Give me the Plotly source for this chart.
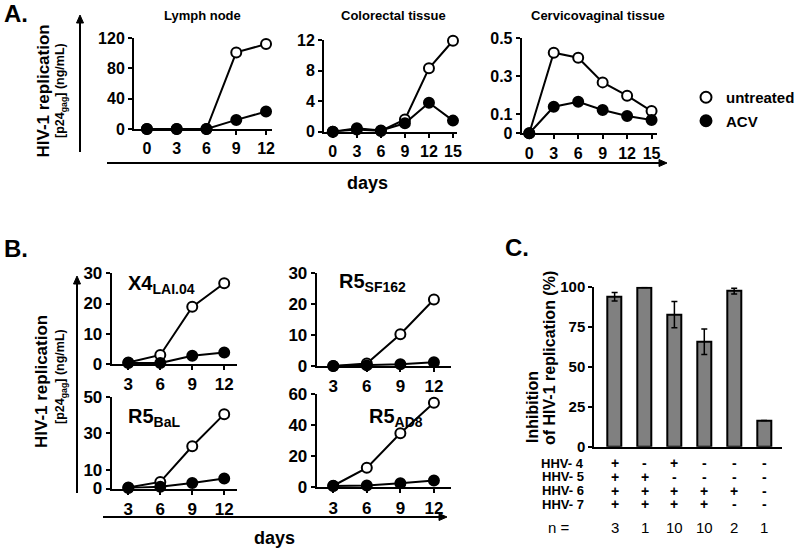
import plotly.graph_objects as go

W, H = 800, 550
FONT = "Liberation Sans, Arial, sans-serif"

# ---------------- Data ----------------
# Panel A
days_ln = [0, 3, 6, 9, 12]
ln_untreated = [0, 0, 0, 101, 112]
ln_acv = [0, 0, 0, 12, 23]

days_cr = [0, 3, 6, 9, 12, 15]
cr_untreated = [0, 0.3, 0.1, 1.6, 8.3, 11.9]
cr_acv = [0, 0.45, 0.15, 1.1, 3.8, 1.45]

days_cv = [0, 3, 6, 9, 12, 15]
cv_untreated = [0, 0.424, 0.398, 0.268, 0.198, 0.117]
cv_acv = [0, 0.14, 0.166, 0.123, 0.091, 0.07]

# Panel B
days_b = [3, 6, 9, 12]
x4_untreated = [0.5, 3.0, 18.9, 26.7]
x4_acv = [0.3, 0.3, 2.7, 3.8]
sf_untreated = [0, 0.8, 10.3, 21.5]
sf_acv = [0, 0.2, 0.6, 1.2]
bal_untreated = [0.5, 3.6, 23, 40.5]
bal_acv = [0.3, 1.0, 3.0, 5.5]
ad8_untreated = [1.0, 12.5, 34.7, 54.4]
ad8_acv = [0.8, 1.2, 2.6, 4.3]

# Panel C
group_pos = [0, 1, 2, 3, 4, 5]
inhibition = [93.7, 99.5, 82.5, 65.6, 97.3, 16.3]
inhibition_err = [2.7, None, 8.2, 8.0, 1.8, None]
hhv4 = ["+", "-", "+", "-", "-", "-"]
hhv5 = ["+", "+", "-", "-", "-", "-"]
hhv6 = ["+", "+", "+", "+", "+", "-"]
hhv7 = ["+", "+", "+", "+", "-", "-"]
n_donors = [3, 1, 10, 10, 2, 1]
hhv_rows = [("HHV- 4", hhv4), ("HHV- 5", hhv5), ("HHV- 6", hhv6), ("HHV- 7", hhv7)]

# ---------------- helpers ----------------
def dx(l, r):
    return [l / W, r / W]

def dy(b, t):
    return [1 - b / H, 1 - t / H]

def px(x):
    return x / W

def py(y):
    return 1 - y / H

def axis(domain, rng, anchor, tickvals, ticktext=None, size=16, showticks=True):
    d = dict(domain=domain, range=rng, anchor=anchor, showline=True, linecolor="black",
             linewidth=2, showgrid=False, zeroline=False, fixedrange=True, automargin=False,
             tickfont=dict(family=FONT, size=size, color="black", weight="bold"))
    if showticks:
        d.update(ticks="outside", ticklen=4, tickwidth=2, tickcolor="black",
                 tickmode="array", tickvals=tickvals)
        if ticktext is not None:
            d["ticktext"] = ticktext
    else:
        d.update(ticks="", showticklabels=False)
    return d

fig = go.Figure()

def add_pair(xs, u, a, xa, ya):
    fig.add_trace(go.Scatter(x=xs, y=u, mode="lines+markers", xaxis=xa, yaxis=ya,
                             line=dict(color="black", width=2),
                             marker=dict(size=10, color="white", line=dict(color="black", width=2)),
                             cliponaxis=False, showlegend=False))
    fig.add_trace(go.Scatter(x=xs, y=a, mode="lines+markers", xaxis=xa, yaxis=ya,
                             line=dict(color="black", width=2),
                             marker=dict(size=10, color="black", line=dict(color="black", width=2)),
                             cliponaxis=False, showlegend=False))

add_pair(days_ln, ln_untreated, ln_acv, "x", "y")
add_pair(days_cr, cr_untreated, cr_acv, "x2", "y2")
add_pair(days_cv, cv_untreated, cv_acv, "x3", "y3")
add_pair(days_b, x4_untreated, x4_acv, "x4", "y4")
add_pair(days_b, sf_untreated, sf_acv, "x5", "y5")
add_pair(days_b, bal_untreated, bal_acv, "x6", "y6")
add_pair(days_b, ad8_untreated, ad8_acv, "x7", "y7")

# legend-only entries
fig.add_trace(go.Scatter(x=[None], y=[None], mode="markers", name="untreated", legendgroup="u",
                         marker=dict(size=11, color="white", line=dict(color="black", width=2))))
fig.add_trace(go.Scatter(x=[None], y=[None], mode="markers", name="ACV", legendgroup="a",
                         marker=dict(size=11, color="black", line=dict(color="black", width=2))))

# Panel C bars
fig.add_trace(go.Bar(x=group_pos, y=inhibition, xaxis="x8", yaxis="y8", width=0.47,
                     marker=dict(color="#808080", line=dict(color="black", width=2)),
                     error_y=dict(type="data", array=inhibition_err, visible=True,
                                  color="black", thickness=1.5, width=3),
                     showlegend=False))

layout = dict(
    template="none",
    width=W, height=H, margin=dict(l=0, r=0, t=0, b=0, pad=0, autoexpand=False),
    paper_bgcolor="white", plot_bgcolor="white",
    font=dict(family=FONT, color="black"),
    showlegend=True,
    legend=dict(x=px(686), y=py(81), xanchor="left", yanchor="top",
                font=dict(family=FONT, size=15, color="black", weight="bold"),
                bgcolor="rgba(0,0,0,0)", borderwidth=0, tracegroupgap=1),
    bargap=0,
)

# Panel A axes
layout["xaxis"] = axis(dx(134, 272), [-1.3, 12.6], "y", days_ln)
layout["yaxis"] = axis(dy(129, 38), [0, 120], "x", [0, 40, 80, 120])
layout["xaxis2"] = axis(dx(324, 457), [-1.1, 15.5], "y2", days_cr)
layout["yaxis2"] = axis(dy(131.7, 40), [0, 12], "x2", [0, 4, 8, 12])
layout["xaxis3"] = axis(dx(521.7, 656.7), [-0.93, 15.63], "y3", days_cv)
layout["yaxis3"] = axis(dy(133.3, 38.3), [0, 0.5], "x3", [0, 0.1, 0.3, 0.5],
                        ["0", "0.1", "0.3", "0.5"])
# Panel B axes
layout["xaxis4"] = axis(dx(111.7, 237), [1.44, 13.2], "y4", days_b, size=17)
layout["yaxis4"] = axis(dy(364, 273.3), [0, 30], "x4", [0, 10, 20, 30], size=17)
layout["xaxis5"] = axis(dx(316.7, 450.7), [1.52, 13.5], "y5", days_b, size=17)
layout["yaxis5"] = axis(dy(366, 273.3), [0, 30], "x5", [0, 10, 20, 30], size=17)
layout["xaxis6"] = axis(dx(111.7, 237), [1.44, 13.2], "y6", days_b, size=17)
layout["yaxis6"] = axis(dy(488.5, 396.7), [0, 50], "x6", [0, 10, 30, 50], size=17)
layout["xaxis7"] = axis(dx(316.7, 450.7), [1.52, 13.5], "y7", days_b, size=17)
layout["yaxis7"] = axis(dy(487.3, 394), [0, 60], "x7", [0, 20, 40, 60], size=17)
# Panel C axes
layout["xaxis8"] = axis(dx(594.3, 781.7), [-0.68, 5.59], "y8", None, showticks=False)
layout["yaxis8"] = axis(dy(446.7, 286.7), [0, 100], "x8", [0, 25, 50, 75, 100], size=15)

fig.update_layout(**layout)

ann = []
shapes = []

def text(x, y, s, size, bold=True, angle=0, xanchor="center", yanchor="middle", xref="paper"):
    ann.append(dict(x=x, y=y, xref=xref, yref="paper", text=s, showarrow=False,
                    textangle=angle, xanchor=xanchor, yanchor=yanchor,
                    font=dict(family=FONT, size=size, color="black",
                              weight="bold" if bold else "normal")))

def arrow(x0, y0, x1, y1):
    # line from (x0,y0) to head at (x1,y1), pixel coords from top-left
    L = 8.0
    hw = 3.5
    if x0 == x1:
        sgn = 1 if y1 > y0 else -1
        by = y1 - sgn * L
        shapes.append(dict(type="line", xref="paper", yref="paper", x0=px(x0), y0=py(y0),
                           x1=px(x1), y1=py(by), line=dict(color="black", width=2)))
        path = f"M {px(x1)},{py(y1)} L {px(x1 - hw)},{py(by)} L {px(x1 + hw)},{py(by)} Z"
    else:
        sgn = 1 if x1 > x0 else -1
        bx = x1 - sgn * L
        shapes.append(dict(type="line", xref="paper", yref="paper", x0=px(x0), y0=py(y0),
                           x1=px(bx), y1=py(y1), line=dict(color="black", width=2)))
        path = f"M {px(x1)},{py(y1)} L {px(bx)},{py(y1 - hw)} L {px(bx)},{py(y1 + hw)} Z"
    shapes.append(dict(type="path", xref="paper", yref="paper", path=path,
                       fillcolor="black", line=dict(color="black", width=1)))

# Panel letters
text(px(2), py(13.5), "A.", 24, xanchor="left")
text(px(2), py(248), "B.", 24, xanchor="left")
text(px(503), py(247), "C.", 24, xanchor="left")

# Panel A texts
text(px(202), py(16), "Lymph node", 13)
text(px(393.5), py(16), "Colorectal tissue", 13)
text(px(598), py(16), "Cervicovaginal tissue", 13)
text(px(43), py(91.5), "HIV-1 replication", 17, angle=-90)
text(px(61), py(91), "[p24<sub>gag</sub>] (ng/mL)", 12.5, angle=-90)
text(px(367), py(183), "days", 18)
arrow(80, 152, 80, 15)
arrow(107, 163, 667, 163)

# Panel B texts
text(px(41), py(382), "HIV-1 replication", 17, angle=-90)
text(px(61), py(377), "[p24<sub>gag</sub>] (ng/mL)", 12.5, angle=-90)
text(px(274), py(550), "days", 18, yanchor="bottom")
arrow(77, 493, 77, 276)
arrow(103, 517, 447, 517)
text(px(126), py(284), "X4<sub>LAI.04</sub>", 20, xanchor="left")
text(px(337), py(282), "R5<sub>SF162</sub>", 20, xanchor="left")
text(px(126), py(417), "R5<sub>BaL</sub>", 20, xanchor="left")
text(px(367), py(417), "R5<sub>AD8</sub>", 20, xanchor="left")

# Panel C texts
text(px(532), py(407), "Inhibition", 16, angle=-90)
text(px(549), py(358), "of HIV-1 replication (%)", 16, angle=-90)
row_y = [463.3, 476.5, 490.5, 504]
for (label, signs), yy in zip(hhv_rows, row_y):
    text(px(586), py(yy), label, 13, xanchor="right")
    for g, s in zip(group_pos, signs):
        text(g, py(yy), s, 14, xref="x8")
text(px(546), py(527), "n =", 15, bold=False, xanchor="left")
for g, n in zip(group_pos, n_donors):
    text(g, py(527), str(n), 15, bold=False, xref="x8")

fig.update_layout(annotations=ann, shapes=shapes)
fig.write_html("out.html", config={"displayModeBar": False},
               post_script="document.body.style.margin='0px';")
